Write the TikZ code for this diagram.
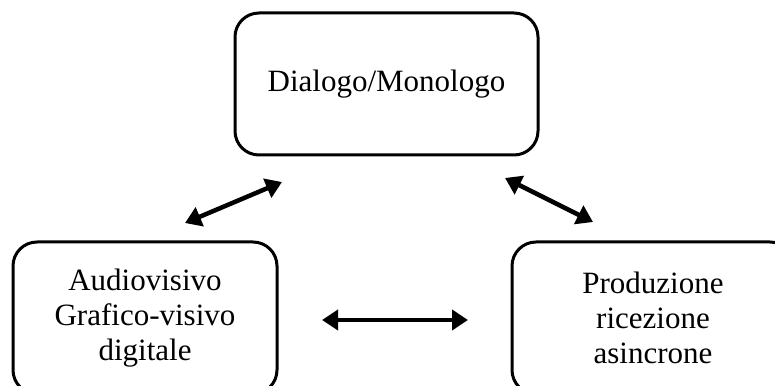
\documentclass[tikz,border=0pt]{standalone}
\usepackage{fontspec}
\setmainfont{Liberation Serif}
\usetikzlibrary{arrows.meta}

\begin{document}
\begin{tikzpicture}[
            x=1pt, y=1pt,
            every node/.append style={black},
            box/.style={draw, line width=3pt, rounded corners=24pt, align=center,
                font=\fontsize{31}{35}\selectfont},
            link/.style={line width=4.5pt, {Triangle[length=16pt,width=20pt]}-{Triangle[length=16pt,width=20pt]}}
        ]
            \useasboundingbox (0,0) rectangle (775,385);
            \node[box, minimum width=303, minimum height=142] (dialogo) at (386.5,301) {Dialogo/Monologo};
            \node[box, minimum width=264, minimum height=152] (audio) at (145,67) {Audiovisivo\\Grafico-visivo\\digitale};
            \node[box, minimum width=282, minimum height=152] (produzione) at (653,67) {Produzione\\ricezione\\asincrone};
            \coordinate (a1) at (185,162);
            \coordinate (b1) at (282,203);
            \coordinate (a2) at (505,207);
            \coordinate (b2) at (593,163);
            \coordinate (a3) at (322,65);
            \coordinate (b3) at (468,65);
            \draw[link] (a1) -- (b1);
            \draw[link] (a2) -- (b2);
            \draw[link] (a3) -- (b3);
        \end{tikzpicture}
\end{document}
